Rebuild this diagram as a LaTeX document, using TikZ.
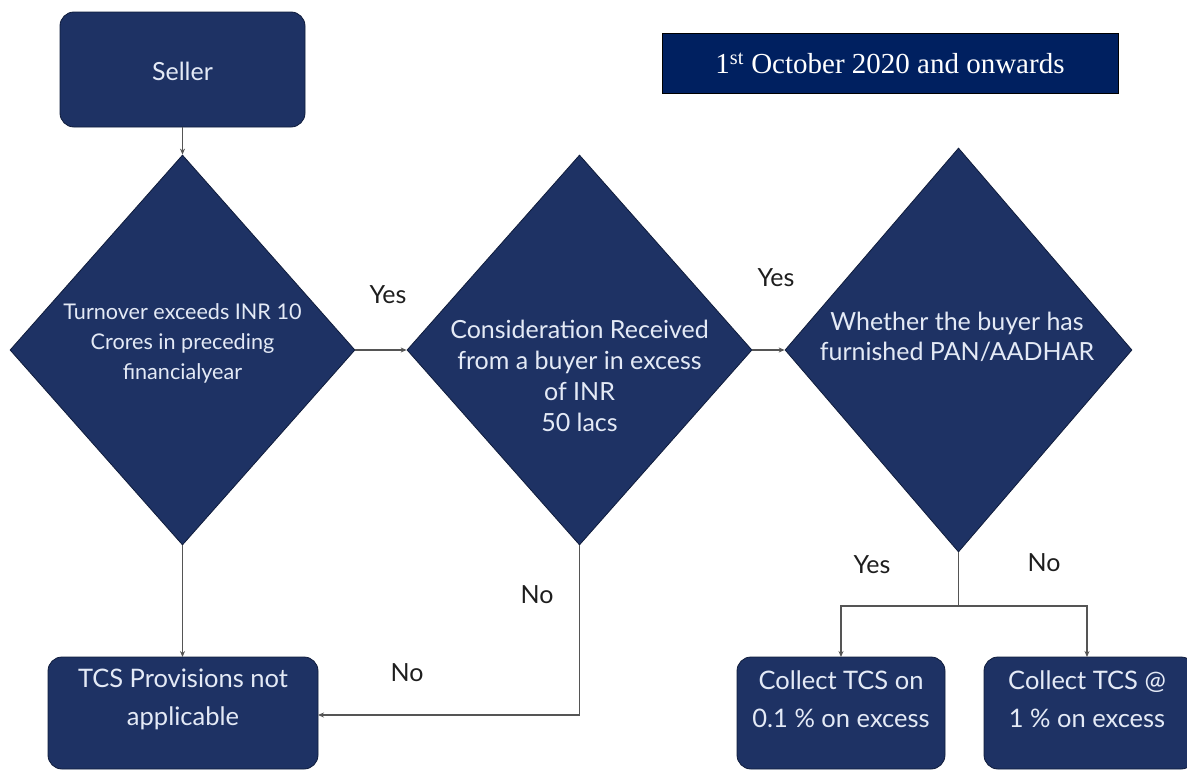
\documentclass[tikz,border=0pt]{standalone}
\usepackage{fontspec}
\setmainfont{Lato}
\newfontfamily\datefont{Liberation Serif}
\usetikzlibrary{shapes.geometric,arrows.meta}
\definecolor{navy}{RGB}{30,50,100}
\definecolor{navyedge}{RGB}{15,28,60}
\definecolor{datenavy}{RGB}{0,32,96}
\definecolor{boxtext}{RGB}{228,234,246}
\definecolor{conn}{RGB}{85,85,85}
\definecolor{lbl}{RGB}{30,30,30}
\tikzset{
  rbox/.style={draw=navyedge,line width=0.8pt,fill=navy,rounded corners=14pt,inner sep=0pt},
  dia/.style={diamond,draw=navyedge,line width=0.8pt,fill=navy,inner sep=0pt,minimum width=#1,minimum height=390pt},
  dtext/.style={text=boxtext,align=center,font=\fontsize{25}{31}\selectfont},
  btext/.style={text=boxtext,align=center,font=\fontsize{25.5}{38}\selectfont},
  lab/.style={text=lbl,font=\fontsize{25}{28}\selectfont},
  conline/.style={draw=conn,line width=1.1pt},
  arr/.style={conline,-{Stealth[length=6pt,width=5pt]}}
}
\begin{document}
\begin{tikzpicture}[x=1pt,y=-1pt]
\useasboundingbox (0,0) rectangle (1187,771);
% Seller
\path[rbox] (60,12) rectangle (305,127);
\node[text=boxtext,font=\fontsize{25}{28}\selectfont] (seller) at (182.5,71) {Seller};
\coordinate (sellerS) at (182.5,127);
% date box
\node[draw=black,line width=0.8pt,fill=datenavy,minimum width=456pt,minimum height=60pt,inner sep=0pt,
  text=white,font=\datefont\fontsize{29}{32}\selectfont] (date) at (890,63)
  {1\textsuperscript{st} October 2020 and onwards};
% diamonds
\node[dia=345pt] (d1) at (182.5,350) {};
\node[dtext,font=\fontsize{21.6}{30}\selectfont] (d1t) at (182.5,343) {Turnover exceeds INR 10\\Crores in preceding\\financialyear};
\node[dia=345pt] (d2) at (579.5,350) {};
\node[dtext] (d2t) at (579.5,376) {Consideration Received\\from a buyer in excess\\of INR\\50 lacs};
\node[dia=347pt,minimum height=404pt] (d3) at (958.5,350) {};
\node[dtext,font=\fontsize{25}{30}\selectfont] (d3t) at (957,337) {Whether the buyer has\\furnished PAN/AADHAR};
% bottom boxes
\path[rbox] (48,657) rectangle (318,769);
\node[btext] (tcs) at (183,699) {TCS Provisions not\\applicable};
\coordinate (tcsN) at (182.5,657);
\coordinate (tcsE) at (318,715);
\path[rbox] (737,657) rectangle (945,769);
\node[btext] (c1) at (841,699) {Collect TCS on\\0.1 \% on excess};
\coordinate (c1N) at (841,657);
\path[rbox] (984,657) rectangle (1195,769);
\node[btext] (c2) at (1087,699) {Collect TCS @\\1 \% on excess};
\coordinate (c2N) at (1087,657);
% connectors
\draw[arr] (sellerS) -- (d1.north);
\draw[arr] (d1.east) -- (d2.west);
\draw[arr] (d2.east) -- (d3.west);
\draw[arr] (d1.south) -- (tcsN);
\draw[arr] (d2.south) |- (tcsE);
\coordinate (br) at (958.5,606);
\draw[conline] (d3.south) -- (br);
\draw[arr] (br) -| (c1N);
\draw[arr] (br) -| (c2N);
% labels
\node[lab] (y1) at (388,295) {Yes};
\node[lab] (y2) at (776,278) {Yes};
\node[lab] (n1) at (537,595) {No};
\node[lab] (n2) at (407,673) {No};
\node[lab] (y3) at (872,565) {Yes};
\node[lab] (n3) at (1044,563) {No};
\end{tikzpicture}
\end{document}
